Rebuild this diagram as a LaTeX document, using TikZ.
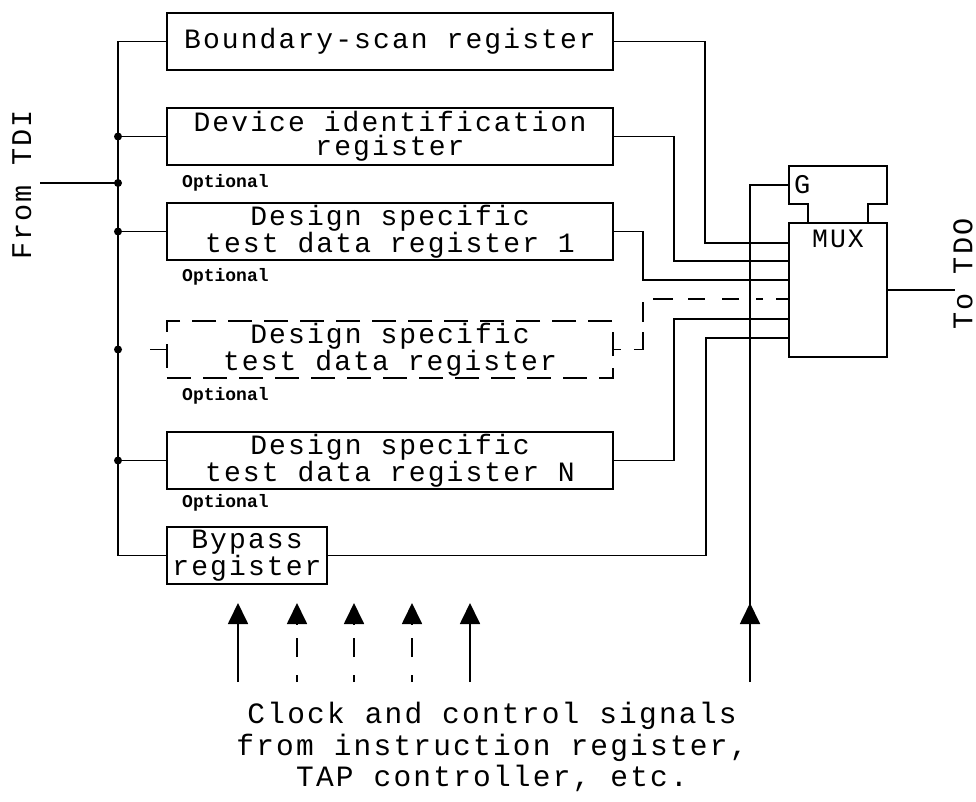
\documentclass[tikz,border=0pt]{standalone}
\usepackage{fontspec}
\usetikzlibrary{arrows.meta,decorations.markings,calc}
\newfontfamily\plotfont[LetterSpace=7.5]{Liberation Mono}
\newfontfamily\optfam{Liberation Mono}
\newcommand\regfont{\plotfont\fontsize{28}{24.5}\selectfont}
\newcommand\optfont{\optfam\bfseries\fontsize{18}{18}\selectfont}
\newcommand\capfont{\plotfont\fontsize{29.5}{31.5}\selectfont}
\tikzset{
  wire/.style={line width=1.8pt},
  regbox/.style={draw, line width=1.8pt, inner sep=0pt, minimum width=446pt, minimum height=57pt, align=center, font=\regfont},
  dashbox/.style={regbox, dash pattern=on 24pt off 12pt},
  dwire/.style={wire, dash pattern=on 17pt off 17pt},
  optlabel/.style={anchor=west, inner sep=0pt, font=\optfont},
  jdot/.style={circle, fill, inner sep=0pt, minimum size=8pt},
  ctl/.style={wire, -{Triangle[length=21pt,width=20pt]}},
  ctldash/.style={ctl, dash pattern=on 7pt off 18pt on 19pt off 14pt},
  side/.style={font=\plotfont\fontsize{28.5}{30}\selectfont, inner sep=0pt, rotate=90}
}
\begin{document}
\begin{tikzpicture}[x=1pt,y=-1pt]
\path[fill=white,use as bounding box] (0,0) rectangle (976,802);

% registers
\node[regbox] (bsr) at (390,41.5) {Boundary-scan register};
\node[regbox] (dir) at (390,136.5) {Device identification\\register};
\node[regbox] (dsr1) at (390,231.5) {Design specific\\test data register 1};
\node[dashbox] (dsrx) at (390,349.5) {Design specific\\test data register};
\node[regbox] (dsrn) at (390,460.5) {Design specific\\test data register N};
\node[regbox, minimum width=160pt] (byp) at (247,555.5) {Bypass\\register};

\node[optlabel] (o1) at (182,183) {Optional};
\node[optlabel] (o2) at (182,277) {Optional};
\node[optlabel] (o3) at (182,396) {Optional};
\node[optlabel] (o4) at (182,503) {Optional};

% MUX and G
\node[draw, line width=1.8pt, minimum width=98pt, minimum height=134pt, inner sep=0pt,
      label={[inner sep=0pt, anchor=north, yshift=-8pt, font=\plotfont\fontsize{26.5}{28}\selectfont]north:MUX}] (mux) at (838,290) {};
\node[minimum width=98pt, minimum height=38pt, inner sep=0pt, text width=88pt, align=left,
      font=\plotfont\fontsize{27}{28}\selectfont] (gbox) at (838,185) {G};
\draw[wire] ([xshift=20pt]mux.north west) |- (gbox.south west) -- (gbox.north west)
  -- (gbox.north east) -- (gbox.south east) -| ([xshift=-20pt]mux.north east);

% input bus
\coordinate (bt) at (118,0);
\coordinate (tdi) at (40,183);
\node[side] (fromtdi) at (22,185) {From TDI};
\draw[wire] (bsr.west) -- (bsr.west -| bt) |- (byp.west);
\draw[wire] (tdi) -- (tdi -| bt) node[jdot] {};
\draw[wire] (dir.west) -- (dir.west -| bt) node[jdot] {};
\draw[wire] (dsr1.west) -- (dsr1.west -| bt) node[jdot] {};
\draw[wire] (dsrn.west) -- (dsrn.west -| bt) node[jdot] {};
\draw[dwire, dash pattern=on 0pt off 32pt on 18pt off 50pt] (dsrx.west -| bt) -- (dsrx.west);
\node[jdot] at (dsrx.west -| bt) {};

% MUX inputs
\coordinate (in1) at (789,243);
\coordinate (in2) at (789,261);
\coordinate (in3) at (789,280);
\coordinate (in4) at (789,299);
\coordinate (in5) at (789,319);
\coordinate (in6) at (789,338);
\draw[wire] (bsr.east) -| (705,243) -- (in1);
\draw[wire] (dir.east) -| (674,261) -- (in2);
\draw[wire] (dsr1.east) -| (643,280) -- (in3);
\draw[dwire, dash pattern=on 7pt off 13pt on 27pt off 10pt on 20pt off 13pt on 20pt off 15pt on 17pt off 17pt on 17pt off 17pt] (dsrx.east) -| (643,299) -- (in4);
\draw[wire] (dsrn.east) -| (674,319) -- (in5);
\draw[wire] (byp.east) -| (706,338) -- (in6);

% output
\coordinate (tdo) at (955,290);
\draw[wire] (mux.east) -- (tdo);
\node[side] (totdo) at (963,274) {To TDO};

% control signals
\foreach \x/\n in {238/1, 470/5} {
  \coordinate (c\n b) at (\x,682);
  \coordinate (c\n t) at (\x,603);
  \draw[ctl] (c\n b) -- (c\n t);
}
\foreach \x/\n in {297/2, 354/3, 412/4} {
  \coordinate (c\n b) at (\x,682);
  \coordinate (c\n t) at (\x,603);
  \draw[ctldash] (c\n b) -- (c\n t);
}
\coordinate (c6b) at (750,682);
\draw[wire, postaction={decorate}, decoration={markings, mark=at position 79pt with {\arrow{Triangle[length=21pt,width=20pt]}}}]
  (c6b) |- (gbox.west);

\node[font=\capfont, align=center, anchor=north, inner sep=0pt] (caption) at (492,702)
  {Clock and control signals\\from instruction register,\\TAP controller, etc.};
\end{tikzpicture}
\end{document}
